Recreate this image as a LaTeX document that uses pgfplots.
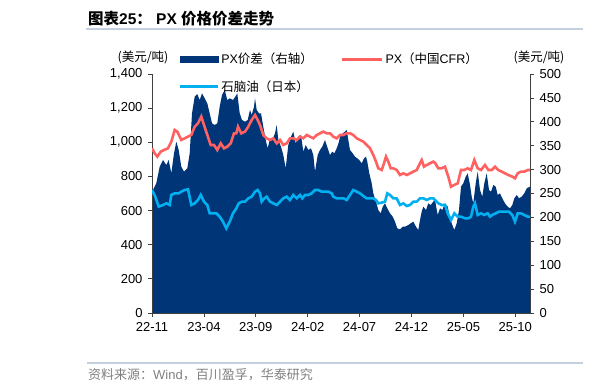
\documentclass[border=0pt]{standalone}
\usepackage{pgfplots}
\pgfplotsset{compat=1.18}
\usepackage{pgfplotstable}
\usepackage{fontspec}
\setmainfont{Liberation Sans}
\newfontfamily\cjk{Noto Sans CJK SC}
\definecolor{navyc}{RGB}{0,53,120}
\definecolor{redc}{RGB}{255,97,97}
\definecolor{bluec}{RGB}{0,176,240}
\definecolor{rulec}{RGB}{197,208,222}
\definecolor{axc}{RGB}{64,64,64}

\pgfplotstableread{
x y
0 253.8
4.3 271.3
7.7 306.1
11 320.1
14.3 309.6
16.7 320.1
19.3 292.2
22 334.0
24.3 358.4
26.7 341.0
29.3 306.1
32 295.7
35.3 302.6
37.7 334.0
40 417.7
42.7 452.6
45.3 458.1
47.7 445.6
50 459.5
52.7 449.1
55.3 438.6
57.7 417.7
60 396.8
62.7 393.3
65.3 396.8
67.7 431.6
70 456.1
72.7 466.5
75.3 445.6
77.7 449.1
81 445.6
83.3 452.6
85.3 459.5
87.7 417.7
90 403.8
93 400.3
95.7 403.8
98 424.7
99.7 414.2
102 431.6
103 449.1
104.7 424.7
107 417.7
109 417.7
111.3 389.8
113.7 361.9
115.7 344.5
118 365.4
120.3 361.9
123 375.9
124.7 393.3
126.3 361.9
129 348.0
131.3 330.5
133.7 302.6
136.3 351.5
139 368.9
141.3 379.3
143.7 354.9
146.3 368.9
149 372.4
151.3 337.5
153.7 351.5
156.3 341.0
159 344.5
161.3 330.5
163 295.7
165.7 330.5
168 341.0
170.3 348.0
173 361.9
175.7 344.5
178 330.5
180.3 337.5
182.3 334.0
184.7 344.5
187 358.4
188 368.9
190.7 375.9
193 379.3
194.7 382.8
196.3 361.9
198 341.0
200.7 334.0
203 327.0
205.3 323.6
207.3 320.1
209.7 313.1
212 323.6
214 327.0
215.3 316.6
217.3 292.2
219.7 271.3
221.3 250.3
224 232.9
226.3 215.5
228.7 208.5
230.7 222.4
233 229.4
235.3 219.0
238 208.5
240.7 201.5
243 191.1
245.3 177.1
248 175.0
250.7 180.6
253 180.6
256.3 184.1
258.7 187.6
261.3 191.1
264 180.6
266.3 173.6
268 194.6
269.7 212.0
271.3 222.4
274 215.5
276.3 229.4
278.7 225.9
281.3 232.9
283 236.4
285.7 205.0
288 219.0
290.3 215.5
293 229.4
295.7 222.4
298 198.0
300.3 184.1
302.3 173.6
304.7 187.6
307 215.5
309 264.3
311.3 271.3
313.7 285.2
315.7 292.2
318 267.8
319.7 243.4
321.3 229.4
323.7 271.3
325.7 295.7
328 257.3
330.3 243.4
332.3 271.3
334.7 292.2
337 257.3
339 253.8
341.3 267.8
343.7 264.3
345.7 246.9
348 250.3
350.3 239.9
353 229.4
355.7 222.4
358 219.0
360.3 225.9
362.3 239.9
364.7 246.9
367 239.9
369.7 243.4
372.3 250.3
374.7 260.8
378 264.3
}\spread

\pgfplotstableread{
x y
0 964.6
2.7 935.3
5.3 915.8
8.7 945.1
12 954.9
16 964.6
19.3 1003.7
22.7 1072.0
25.3 1062.3
29.3 1013.4
32.7 1023.2
36 1033.0
39.3 1042.7
42.7 1091.5
46 1111.1
49.3 1150.1
52 1101.3
55.3 1042.7
58.7 984.1
62 984.1
65.3 954.9
68.7 993.9
72 964.6
75.3 974.4
78.7 993.9
82 1052.5
84.3 1052.5
86 1091.5
89.3 1052.5
93 1062.3
96.3 1091.5
99.7 1130.6
103 1159.9
105.7 1130.6
108 1101.3
111.3 1042.7
114.7 1023.2
118 1013.4
121.3 1023.2
124.7 993.9
128 1013.4
131.3 984.1
134.7 993.9
138 1023.2
141.3 1023.2
144.7 1013.4
148 1033.0
151.3 1023.2
154.7 1042.7
158 1033.0
161.3 1023.2
164.7 1042.7
168 1052.5
171.3 1062.3
174.7 1052.5
178 1052.5
181.3 1033.0
184.7 1023.2
188 1042.7
191.3 1042.7
194.7 1052.5
198 1052.5
201.3 1042.7
204.7 1023.2
208 1013.4
211.3 1003.7
214.7 984.1
218 964.6
221.3 925.6
224 886.5
226.3 847.5
229.7 837.7
232 876.8
234 915.8
236.3 886.5
238.7 847.5
241.3 847.5
244.7 837.7
248 808.4
251.3 818.2
254.7 808.4
258 818.2
261.3 827.9
264.7 837.7
268 876.8
269.7 896.3
272 857.2
274.7 867.0
278 876.8
281.3 886.5
283 880.0
286.3 847.5
289.7 847.5
293 857.2
296.3 798.6
299 740.0
302.3 749.8
305.7 759.5
309 837.7
312.3 837.7
315.7 847.5
319 837.7
322.3 896.3
325.7 847.5
329 837.7
333 867.0
336.3 837.7
339.7 837.7
343 857.2
346.3 837.7
349.7 827.9
353 818.2
356.3 808.4
360.3 798.6
363 788.9
365.7 818.2
369 827.9
372.3 827.9
375.7 837.7
378 837.7
}\pxcfr

\pgfplotstableread{
x y
0 720.5
3.3 681.5
6.7 622.9
11 632.7
14.3 642.4
17.7 632.7
19.3 691.2
22.7 701.0
26.7 701.0
29.3 710.8
32.7 720.5
36 724.5
39.3 632.7
42.7 642.4
46 662.0
48.7 691.2
52 652.2
55.3 632.7
57.7 583.8
61 583.8
64.3 583.8
67.7 564.3
71 535.0
74.3 496.0
77.7 535.0
81 583.8
84.3 613.1
86.7 642.4
90 652.2
93 652.2
96.3 671.7
99.7 681.5
103 710.8
105.7 720.5
108 701.0
109.7 652.2
112.3 671.7
114.7 681.5
118 652.2
121.3 642.4
124.7 632.7
128 652.2
131.3 671.7
134.7 681.5
138 662.0
141.3 691.2
144.7 671.7
148 691.2
150.3 671.7
153 691.2
156.3 691.2
159.7 701.0
163 720.5
166.3 720.5
169.7 710.8
173 710.8
176.3 710.8
179.7 701.0
181.3 681.5
184.7 671.7
188 671.7
191.3 671.7
194.7 662.0
198 691.2
201.3 720.5
204.7 710.8
208 701.0
211.3 685.4
214.7 671.7
218 671.7
221.3 671.7
224 662.0
226.3 642.4
229.7 646.3
233 652.2
235.3 701.0
238 691.2
241.3 671.7
244.7 671.7
248 632.7
251.3 642.4
254.7 626.8
258 632.7
261.3 652.2
264.7 652.2
268 671.7
271.3 671.7
274.7 662.0
278 671.7
281.3 671.7
284.7 652.2
286.3 642.4
289.7 632.7
293 632.7
295.7 583.8
299 544.8
302.3 583.8
305.7 564.3
309 564.3
313 554.6
316.3 554.6
319 564.3
321.3 622.9
323 642.4
325.7 574.1
329 583.8
332.3 574.1
335.7 583.8
338 564.3
340.3 574.1
343.7 583.8
347 593.6
350.3 593.6
353.7 593.6
357 593.6
360.3 574.1
363 535.0
365.7 583.8
369 583.8
372.3 574.1
375.7 564.3
378 564.3
}\naphtha

\begin{document}
\begin{tikzpicture}
\useasboundingbox (0,0) rectangle (616bp,389bp);
\pgfplotsset{
  base/.style={
    at={(152bp,76bp)}, anchor=south west, scale only axis,
    width=378bp, height=239bp,
    xmin=0, xmax=378,
    tick align=outside, major tick length=4bp,
    axis line style={-, axc, line width=0.8bp},
    major tick style={axc, line width=0.8bp},
    tick label style={font=\fontsize{13bp}{15bp}\selectfont, text=black},
    /pgf/number format/assume math mode=true,
  }
}
% right axis: spread (area)
\begin{axis}[base,
  ymin=0, ymax=500,
  axis x line=none, axis y line*=right,
  ytick={0,50,...,500},
  yticklabel style={anchor=west, xshift=2bp},
]
\addplot[fill=navyc, draw=none] table[x=x,y=y] {\spread} \closedcycle;
\end{axis}
% left axis: prices
\begin{axis}[base,
  ymin=0, ymax=1400,
  axis y line*=left, axis x line*=bottom,
  ytick={0,200,...,1400},
  /pgf/number format/1000 sep={,},
  yticklabel style={anchor=east, xshift=-2bp},
  xtick={0,51.9,103.8,155.7,207.6,259.5,311.4,363.3},
  xticklabels={22-11,23-04,23-09,24-02,24-07,24-12,25-05,25-10},
  xticklabel style={anchor=north, yshift=-2bp},
  legend columns=2,
  legend style={at={(0.07,1.096)}, anchor=north west,
    draw=none, fill=none, inner sep=0pt,
    font=\fontsize{12.5bp}{14bp}\selectfont,
    /tikz/every even column/.append style={column sep=26bp},
    row sep=11bp},
  legend cell align=left,
]
\addlegendimage{legend image code/.code={\fill[navyc] (0bp,-2.8bp) rectangle (38bp,2.8bp);}}
\addplot[redc, line width=2.6bp, legend image code/.code={\draw[redc, line width=2.6bp] (0bp,0bp) -- (40bp,0bp);}] table[x=x,y=y] {\pxcfr};
\addplot[bluec, line width=2.6bp, legend image code/.code={\draw[bluec, line width=2.6bp] (0bp,0bp) -- (38bp,0bp);}] table[x=x,y=y] {\naphtha};
\legend{PX{\cjk 价差（右轴）}, PX{\cjk （中国}CFR{\cjk ）}, {\cjk 石脑油（日本）}}
\end{axis}
% title and decorations
\node[anchor=west, inner sep=0pt, font=\fontsize{15.5bp}{17bp}\selectfont\bfseries] at (88bp,370bp)
  {{\cjk 图表}25{\cjk ：} PX {\cjk 价格价差走势}};
\draw[rulec, line width=2bp] (86bp,359.5bp) -- (583bp,359.5bp);
\node[inner sep=0pt, font=\fontsize{12.5bp}{14bp}\selectfont] at (143bp,332bp) {\cjk (美元/吨)};
\node[inner sep=0pt, font=\fontsize{12.5bp}{14bp}\selectfont] at (539bp,332bp) {\cjk (美元/吨)};
\draw[rulec, line width=1.5bp] (87bp,26bp) -- (583bp,26bp);
\node[anchor=west, inner sep=0pt, text=black!50, font=\fontsize{13bp}{15bp}\selectfont] at (88bp,14.5bp)
  {{\cjk 资料来源：}Wind{\cjk ，百川盈孚，华泰研究}};
\end{tikzpicture}
\end{document}
